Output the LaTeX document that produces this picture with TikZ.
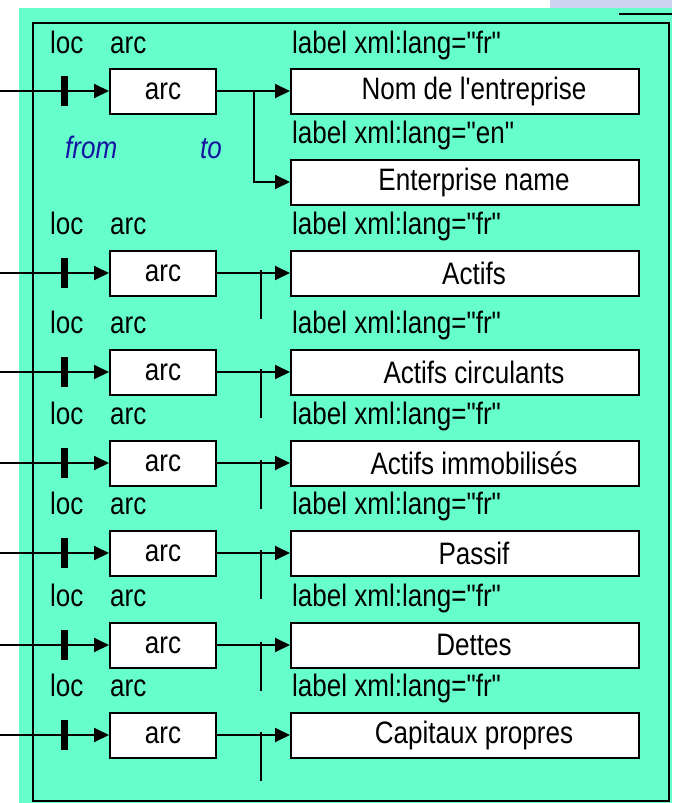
\documentclass[tikz,border=0pt]{standalone}
\usepackage{fontspec}
\setmainfont{Liberation Sans}[Ligatures=TeXOff, FakeStretch=0.84]
\usetikzlibrary{arrows.meta}

\definecolor{slidegreen}{RGB}{102,255,204}
\definecolor{slidehaze}{RGB}{205,210,238}
\definecolor{darkblue}{RGB}{20,20,160}

\tikzset{
  arcbox/.style={draw, fill=white, line width=2pt, minimum width=106pt, minimum height=45pt, inner sep=0pt},
  valbox/.style={arcbox, minimum width=348pt, execute at begin node=\hspace*{18pt}},
  head/.style={anchor=west, inner sep=0pt, text height=22pt, text depth=6pt},
  role/.style={head, text=darkblue, font=\fontsize{31}{36}\selectfont\itshape},
  link/.style={line width=2pt, -{Triangle[length=15pt,width=14pt]}},
  tickbar/.style={fill=black, minimum width=7pt, minimum height=30pt, inner sep=0pt},
}

\begin{document}
\begin{tikzpicture}[x=1pt, y=-1pt, font=\fontsize{31}{36}\selectfont]
  \useasboundingbox (0,0) rectangle (672,803);
  \fill[slidehaze] (550,0) rectangle (672,8);      %Bildrest
  \fill[slidegreen] (19,8) rectangle (672,803);    %Hintergrund
  \draw[line width=2pt] (619,14) -- (672,14);
  \draw[line width=2pt] (33,23) rectangle (669,801); %Rahmen

  % erste Zeile mit zwei Labels
  \node[head] (loc1) at (50,45) {loc};
  \node[head] (arch1) at (110,45) {arc};
  \node[head] (lab1) at (292,45) {label xml:lang="fr"};
  \coordinate (in1) at (0,91);
  \node[tickbar] (tick1) at (64,91) {};
  \node[arcbox] (arc1) at (163,91) {arc};
  \node[valbox] (val1) at (465,91) {Nom de l'entreprise};
  \node[head] (lab1b) at (292,135) {label xml:lang="en"};
  \node[valbox] (val1b) at (465,182) {Enterprise name};
  \node[role] (from) at (65,150) {from};
  \node[role] (to) at (200,150) {to};
  \draw[link] (in1) -- (arc1);
  \draw[link] (arc1) -- (val1);
  \draw[link] (arc1.east) -- ++(37,0) |- (val1b);

  % weitere Zeilen
  \foreach \i/\y/\txt in {2/273/Actifs, 3/372/Actifs circulants, 4/463/Actifs immobilisés,
                          5/553/Passif, 6/645/Dettes, 7/735/Capitaux propres}{
    \node[head] (loc\i) at (50,\y-47) {loc};
    \node[head] (arch\i) at (110,\y-47) {arc};
    \node[head] (lab\i) at (292,\y-47) {label xml:lang="fr"};
    \coordinate (in\i) at (0,\y);
    \node[tickbar] (tick\i) at (64,\y) {};
    \node[arcbox] (arc\i) at (163,\y) {arc};
    \node[valbox] (val\i) at (465,\y) {\txt};
    \draw[link] (in\i) -- (arc\i);
    \draw[link] (arc\i) -- (val\i);
    \draw[line width=2pt] ([xshift=44pt]arc\i.east) ++(0,-3) -- ++(0,49);
  }
\end{tikzpicture}
\end{document}
